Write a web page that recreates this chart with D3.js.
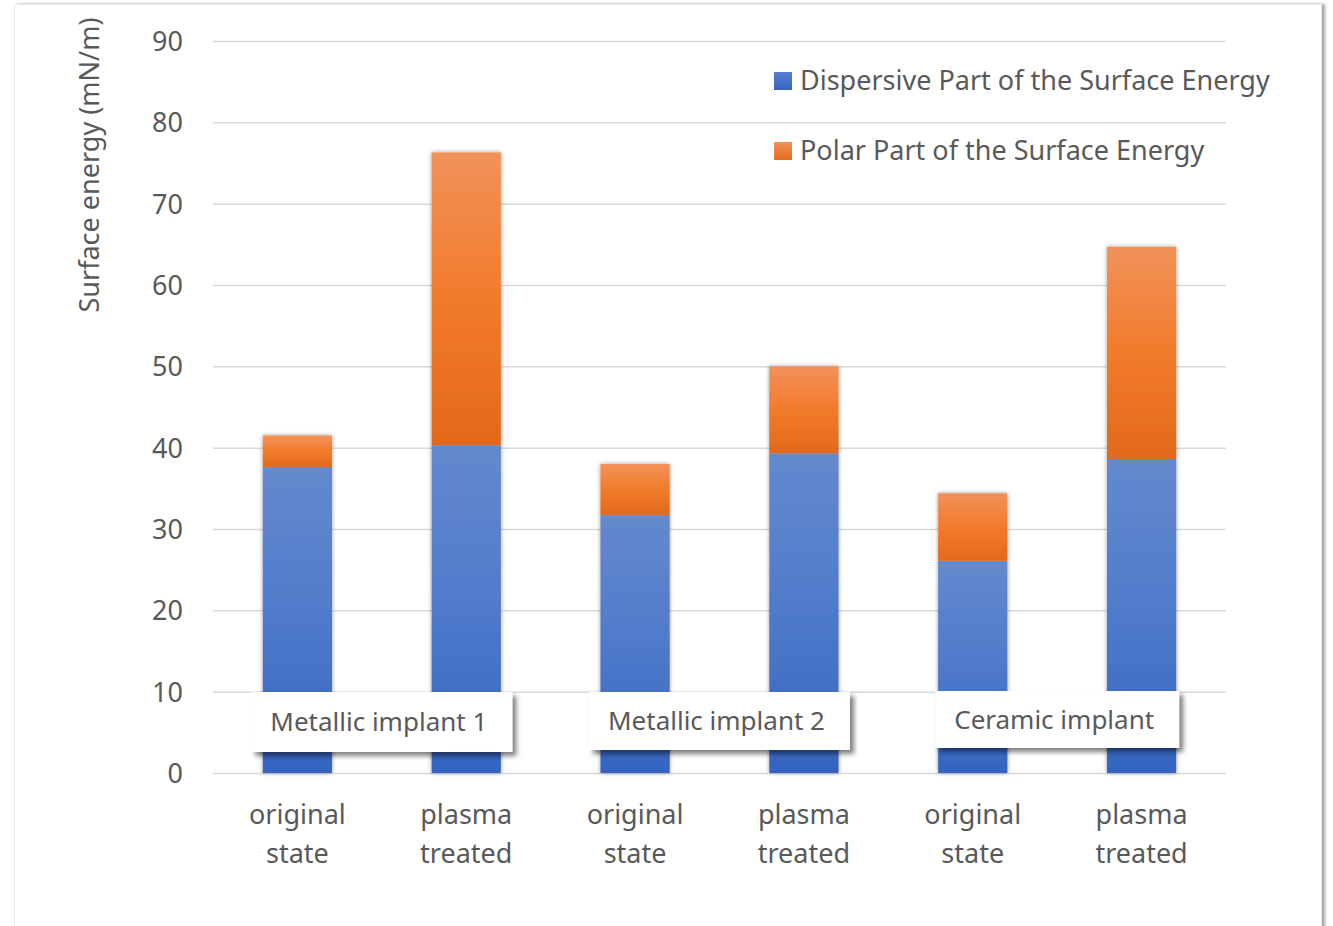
<!DOCTYPE html>
<html>
<head>
<meta charset="utf-8">
<script src="https://cdn.jsdelivr.net/npm/d3@7"></script>
<style>
  html, body { margin: 0; padding: 0; background: #fff; }
  svg { display: block; font-family: "Noto Sans", sans-serif; }
</style>
</head>
<body>
<svg id="chart" width="1333" height="926"></svg>
<script>
// Surface energy components (mN/m) per sample
const categories = ["original state", "plasma treated", "original state", "plasma treated", "original state", "plasma treated"];
const groups = ["Metallic implant 1", "Metallic implant 2", "Ceramic implant"];
const dispersive = [37.6, 40.3, 31.7, 39.3, 26.1, 38.6];
const polar = [3.9, 36.0, 6.3, 10.7, 8.3, 26.1];
const seriesNames = ["Dispersive Part of the Surface Energy", "Polar Part of the Surface Energy"];
const yTicks = [0, 10, 20, 30, 40, 50, 60, 70, 80, 90];

const svg = d3.select("#chart");
const plot = { left: 213, right: 1226, top: 41, bottom: 773 };
const textColor = "#595959";
const fs = 27;

const defs = svg.append("defs");

// soft shadows for the frame, bars and group boxes
const fFrame = defs.append("filter").attr("id", "frameShadow")
  .attr("x", "-5%").attr("y", "-5%").attr("width", "110%").attr("height", "110%");
fFrame.append("feDropShadow").attr("dx", 3).attr("dy", 0).attr("stdDeviation", 1.5)
  .attr("flood-color", "#000").attr("flood-opacity", 0.35);

const fBar = defs.append("filter").attr("id", "barShadow")
  .attr("x", "-30%").attr("y", "-10%").attr("width", "160%").attr("height", "120%");
fBar.append("feDropShadow").attr("dx", 0).attr("dy", 0).attr("stdDeviation", 2.2)
  .attr("flood-color", "#000").attr("flood-opacity", 0.4);

const fBox = defs.append("filter").attr("id", "boxShadow")
  .attr("x", "-10%").attr("y", "-20%").attr("width", "125%").attr("height", "160%");
fBox.append("feDropShadow").attr("dx", 4).attr("dy", 4).attr("stdDeviation", 2.5)
  .attr("flood-color", "#000").attr("flood-opacity", 0.5);

function vGradient(id, stops) {
  const g = defs.append("linearGradient").attr("id", id)
    .attr("x1", 0).attr("y1", 0).attr("x2", 0).attr("y2", 1);
  stops.forEach(([o, c]) => g.append("stop").attr("offset", o).attr("stop-color", c));
}
vGradient("gradBlue", [[0, "#6489cd"], [0.5, "#4f7acb"], [1, "#3464c0"]]);
vGradient("gradOrange", [[0, "#f1925a"], [0.5, "#f27b2b"], [1, "#e2691a"]]);
vGradient("legBlue", [[0, "#5a80cf"], [1, "#3464c0"]]);
vGradient("legOrange", [[0, "#f1925a"], [1, "#e66c1a"]]);

// chart frame
svg.append("rect")
  .attr("x", 14.5).attr("y", 4.5).attr("width", 1307).attr("height", 960)
  .attr("fill", "#fff").attr("stroke", "#ececec").attr("stroke-width", 1)
  .attr("filter", "url(#frameShadow)");

const x = d3.scaleBand().domain(d3.range(categories.length))
  .range([plot.left, plot.right]).paddingInner(0.59).paddingOuter(0.295);
const y = d3.scaleLinear().domain([0, 90]).range([plot.bottom, plot.top]);

// gridlines + tick labels
const yAxis = d3.axisLeft(y).tickValues(yTicks).tickSize(-(plot.right - plot.left)).tickPadding(30);
const gy = svg.append("g").attr("transform", `translate(${plot.left},0)`).call(yAxis);
gy.select(".domain").remove();
gy.selectAll(".tick line").attr("stroke", "#d9d9d9").attr("stroke-width", 1.5);
gy.selectAll(".tick text").attr("fill", textColor).attr("font-size", fs)
  .attr("font-family", "Noto Sans, sans-serif").attr("dy", "0.35em");

// y axis title
svg.append("text")
  .attr("transform", "translate(99,165) rotate(-90)")
  .attr("text-anchor", "middle")
  .attr("fill", textColor).attr("font-size", fs)
  .text("Surface energy (mN/m)");

// stacked bars
const rows = categories.map((c, i) => ({ i, d: dispersive[i], p: polar[i] }));
const bars = svg.append("g");
rows.forEach(r => {
  const g = bars.append("g").attr("filter", "url(#barShadow)");
  g.append("rect")
    .attr("x", x(r.i)).attr("width", x.bandwidth())
    .attr("y", y(r.d)).attr("height", y(0) - y(r.d))
    .attr("fill", "url(#gradBlue)");
  g.append("rect")
    .attr("x", x(r.i)).attr("width", x.bandwidth())
    .attr("y", y(r.d + r.p)).attr("height", y(r.d) - y(r.d + r.p))
    .attr("fill", "url(#gradOrange)");
});

// category labels (two lines)
const catG = svg.append("g");
categories.forEach((c, i) => {
  const words = c.split(" ");
  const cx = x(i) + x.bandwidth() / 2;
  const t = catG.append("text")
    .attr("x", cx).attr("y", 824)
    .attr("text-anchor", "middle").attr("fill", textColor).attr("font-size", fs);
  words.forEach((w, k) => {
    t.append("tspan").attr("x", cx).attr("dy", k === 0 ? 0 : 39).text(w);
  });
});

// group label boxes
const boxTops = [692, 692, 691];
const boxHeights = [60, 58, 57];
groups.forEach((name, gi) => {
  const cx = (x(gi * 2) + x(gi * 2 + 1) + x.bandwidth()) / 2;
  const g = svg.append("g");
  const rect = g.append("rect").attr("fill", "#fff").attr("filter", "url(#boxShadow)");
  const t = g.append("text").attr("fill", textColor).attr("font-size", 26).text(name);
  const tw = t.node().getComputedTextLength();
  const bw = tw + 44;
  const bx = cx - bw / 2;
  rect.attr("x", bx).attr("y", boxTops[gi]).attr("width", bw).attr("height", boxHeights[gi]);
  t.attr("x", bx + 19).attr("y", boxTops[gi] + boxHeights[gi] / 2).attr("dy", "0.35em");
});

// legend
const legend = svg.append("g");
const legFills = ["url(#legBlue)", "url(#legOrange)"];
const legY = [81, 151];
seriesNames.forEach((n, i) => {
  legend.append("rect").attr("x", 774).attr("y", legY[i] - 9).attr("width", 18).attr("height", 18)
    .attr("fill", legFills[i]);
  legend.append("text").attr("x", 800).attr("y", legY[i]).attr("dy", "0.35em")
    .attr("fill", textColor).attr("font-size", fs).text(n);
});
</script>
</body>
</html>
